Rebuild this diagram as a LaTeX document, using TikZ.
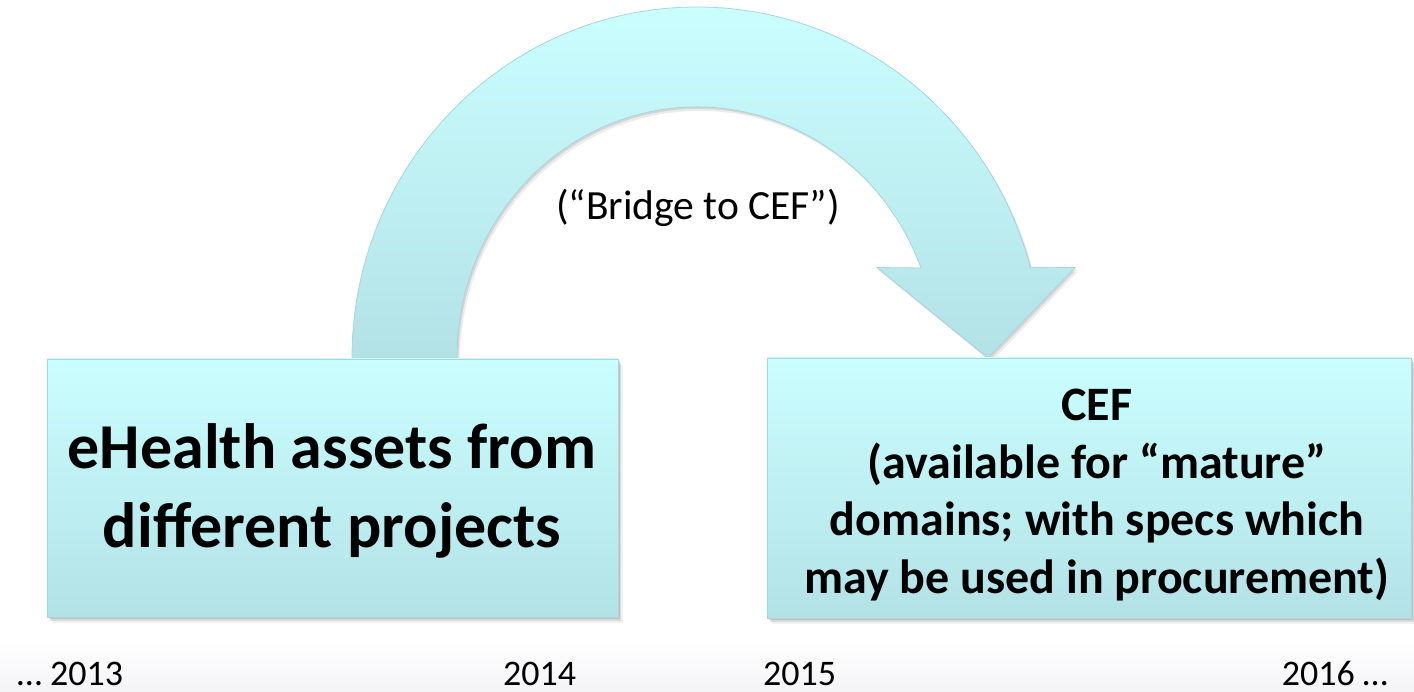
\documentclass[tikz,border=0pt]{standalone}
\usepackage{fontspec}
\setmainfont{Carlito}
\usetikzlibrary{shadows}
\definecolor{cyantop}{RGB}{202,254,255}
\definecolor{cyanbot}{RGB}{179,226,230}
\definecolor{cyanedge}{RGB}{168,214,218}
\tikzset{
  softshadow/.style={
    drop shadow={shadow xshift=1.5pt, shadow yshift=-2pt, opacity=0.18, fill=black!70},
    drop shadow={shadow xshift=3pt, shadow yshift=-4pt, opacity=0.14, fill=black!70},
    drop shadow={shadow xshift=4.5pt, shadow yshift=-6pt, opacity=0.08, fill=black!70}},
  panel/.style={draw=cyanedge, line width=0.8pt, top color=cyantop, bottom color=cyanbot, softshadow},
  bigtext/.style={inner sep=0pt, align=center, font=\bfseries\fontsize{64}{79}\selectfont},
  midtext/.style={inner sep=0pt, align=center, font=\bfseries\fontsize{48}{57.5}\selectfont},
  bridgetext/.style={inner sep=0pt, font=\fontsize{41.5}{49}\selectfont},
  yeartext/.style={inner sep=0pt, anchor=base west, font=\fontsize{36}{43}\selectfont}
}
\begin{document}
\begin{tikzpicture}[x=1pt, y=-1pt]
\useasboundingbox (0,0) rectangle (1414,692);
% faint floor reflection
\fill[top color=white, bottom color={rgb,255:red,244;green,243;blue,246}, draw=none] (0,640) rectangle (1414,692);
% curved arrow
\path[draw=cyanedge, line width=0.8pt, top color=cyantop, bottom color=cyanbot,
      drop shadow={shadow xshift=1.5pt, shadow yshift=-2pt, opacity=0.15, fill=black!70},
      drop shadow={shadow xshift=3pt, shadow yshift=-4pt, opacity=0.1, fill=black!70}]
  (352,358) arc[start angle=180, end angle=345, x radius=345, y radius=351]
  -- (1075,267.5) -- (988,358) -- (877,267.5) -- (921,268)
  arc[start angle=339, end angle=180, x radius=240, y radius=251] -- cycle;
% boxes
\node[panel, minimum width=571pt, minimum height=258pt, inner sep=0pt] (lbox) at (332.5,488) {};
\node[panel, minimum width=644pt, minimum height=260pt, inner sep=0pt] (rbox) at (1089,488) {};
\node[bigtext, anchor=base] (ltext) at (332,547) {eHealth assets from\\different projects};
\node[midtext, anchor=base] (rtext) at (1097,593) {CEF\\(available for “mature”\\domains; with specs which\\may be used in procurement)};
\node[bridgetext, anchor=base] (bridge) at (698,220) {(“Bridge to CEF”)};
% years
\node[yeartext] (y2013) at (17,685) {… 2013};
\node[yeartext] (y2014) at (503,685) {2014};
\node[yeartext] (y2015) at (763,685) {2015};
\node[yeartext, anchor=base east] (y2016) at (1388,685) {2016 …};
\end{tikzpicture}
\end{document}
